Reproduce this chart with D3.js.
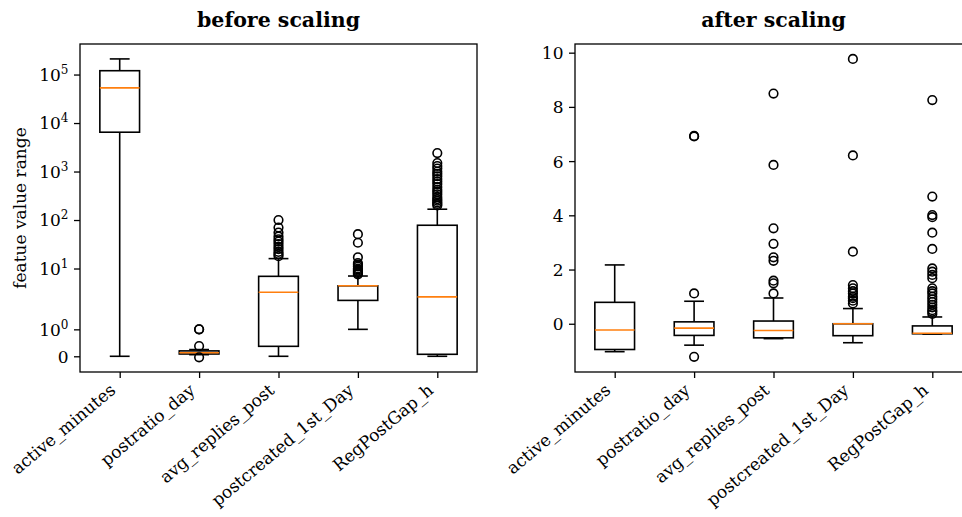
<!DOCTYPE html>
<html>
<head>
<meta charset="utf-8">
<script src="https://cdn.jsdelivr.net/npm/d3@7"></script>
<style>
  body { margin: 0; background: #fff; }
  svg { display: block; font-family: "DejaVu Serif", serif; }
  .domain { display: none; }
</style>
</head>
<body>
<div id="chart"></div>
<script>
const categories = ['active_minutes', 'postratio_day', 'avg_replies_post', 'postcreated_1st_Day', 'RegPostGap_h'];

// [whisker low, q1, median, q3, whisker high]
const beforeStats = [
  [0, 6470, 53000, 120000, 210000],
  [0.06, 0.085, 0.13, 0.2, 0.25],
  [0, 0.37, 3.24, 6.9, 16],
  [1, 2.2, 4.4, 4.4, 7],
  [0, 0.074, 2.6, 78, 167],
];
const beforeOutliers = [
  [],
  [1, 1, 0.38, -0.04],
  [100, 70, 55, 46, 40, 36, 32, 28, 25, 22, 20, 18],
  [51, 34, 17, 13, 12, 11, 10, 9.5, 9, 8.5, 8, 7.6],
  [2400, 1500, 1300, 1150, 1000, 900, 800, 700, 620, 550, 480, 420, 380, 340, 300, 270, 250, 230, 215, 200],
];
const afterStats = [
  [-1.03, -0.95, -0.23, 0.79, 2.17],
  [-0.79, -0.43, -0.16, 0.07, 0.83],
  [-0.55, -0.52, -0.25, 0.1, 0.95],
  [-0.7, -0.44, 0.0, 0.0, 0.56],
  [-0.38, -0.37, -0.35, -0.08, 0.25],
];
const afterOutliers = [
  [],
  [6.93, 6.91, 1.12, -1.22],
  [8.49, 5.86, 3.52, 2.95, 2.45, 2.32, 1.59, 1.49, 1.12],
  [9.77, 6.21, 2.66, 1.43, 1.31, 1.2, 1.12, 1.0, 0.94, 0.85, 0.75],
  [8.25, 4.69, 4.01, 3.93, 3.36, 2.76, 2.04, 1.92, 1.8, 1.68, 1.31, 1.2, 1.12, 1.0, 0.9, 0.8, 0.7, 0.6, 0.5, 0.44, 0.36],
];
const beforeTicks = [0, 1, 10, 100, 1000, 10000, 100000];
const afterTicks = [0, 2, 4, 6, 8, 10];

const width = 962;
const height = 517;

// matplotlib-like symlog (linthresh 2, linscale 1)
const linthresh = 2;
const linscale = 1 / (1 - 1 / 10);
function symlog(v) {
  const a = Math.abs(v);
  const t = a <= linthresh ? (a / linthresh) * linscale : linscale + Math.log10(a / linthresh);
  return v < 0 ? -t : t;
}

const svg = d3.select('#chart').append('svg')
  .attr('width', width)
  .attr('height', height);

svg.append('rect').attr('width', width).attr('height', height).attr('fill', '#fff');

function drawPanel(opts) {
  const { left, right, top, bottom, stats, outliers, title, transform, domain, ticks, fmt } = opts;

  const x = d3.scaleLinear().domain([0.5, 5.5]).range([left, right]);
  const lin = d3.scaleLinear().domain(domain).range([bottom, top]);
  const y = (v) => lin(transform(v));

  const g = svg.append('g');

  // boxes
  const boxW = 0.25;
  const capW = 0.125;
  stats.forEach((s, i) => {
    const cx = x(i + 1);
    const [lo, q1, med, q3, hi] = s;
    const bx = g.append('g').attr('fill', 'none').attr('stroke', '#000').attr('stroke-width', 1.6);
    bx.append('line').attr('x1', cx).attr('x2', cx).attr('y1', y(q1)).attr('y2', y(lo));
    bx.append('line').attr('x1', cx).attr('x2', cx).attr('y1', y(q3)).attr('y2', y(hi));
    bx.append('line').attr('x1', x(i + 1 - capW)).attr('x2', x(i + 1 + capW)).attr('y1', y(lo)).attr('y2', y(lo));
    bx.append('line').attr('x1', x(i + 1 - capW)).attr('x2', x(i + 1 + capW)).attr('y1', y(hi)).attr('y2', y(hi));
    bx.append('rect')
      .attr('x', x(i + 1 - boxW))
      .attr('width', x(i + 1 + boxW) - x(i + 1 - boxW))
      .attr('y', y(q3))
      .attr('height', Math.max(0.5, y(q1) - y(q3)));
    g.append('line')
      .attr('x1', x(i + 1 - boxW)).attr('x2', x(i + 1 + boxW))
      .attr('y1', y(med)).attr('y2', y(med))
      .attr('stroke', '#ff7f0e').attr('stroke-width', 1.6);
    g.selectAll(null).data(outliers[i]).enter().append('circle')
      .attr('cx', cx)
      .attr('cy', (d) => y(d))
      .attr('r', 4.3)
      .attr('fill', 'none')
      .attr('stroke', '#000')
      .attr('stroke-width', 1.6);
  });

  // frame
  svg.append('rect')
    .attr('x', left).attr('y', top)
    .attr('width', right - left).attr('height', bottom - top)
    .attr('fill', 'none')
    .attr('stroke', '#000')
    .attr('stroke-width', 1.3);

  // x axis
  const xAxis = svg.append('g')
    .attr('transform', `translate(0,${bottom})`)
    .call(d3.axisBottom(x).tickValues([1, 2, 3, 4, 5]).tickSize(6).tickFormat(''));
  xAxis.selectAll('.tick line').attr('stroke', '#000').attr('stroke-width', 1.3);

  categories.forEach((c, i) => {
    svg.append('text')
      .attr('transform', `translate(${x(i + 1) - 3},${bottom + 20}) rotate(-40)`)
      .attr('text-anchor', 'end')
      .attr('font-size', 17)
      .attr('fill', '#000')
      .text(c);
  });

  // y axis
  const yAxis = svg.append('g')
    .attr('transform', `translate(${left},0)`)
    .call(d3.axisLeft(lin).tickValues(ticks.map(transform)).tickSize(6).tickFormat(''));
  yAxis.selectAll('.tick line').attr('stroke', '#000').attr('stroke-width', 1.3);
  yAxis.selectAll('.tick').each(function (d, i) {
    const t = d3.select(this).append('text')
      .attr('x', -11.5)
      .attr('dy', '0.35em')
      .attr('text-anchor', 'end')
      .attr('font-size', 17)
      .attr('fill', '#000')
      .attr('font-family', '"DejaVu Serif", serif');
    fmt(t, ticks[i]);
  });

  svg.append('text')
    .attr('x', (left + right) / 2)
    .attr('y', top - 17)
    .attr('text-anchor', 'middle')
    .attr('font-size', 20.5)
    .attr('font-weight', 'bold')
    .text(title);
}

drawPanel({
  left: 80, right: 477, top: 44, bottom: 372,
  stats: beforeStats, outliers: beforeOutliers,
  title: 'before scaling',
  transform: symlog,
  domain: [-0.324, 6.44],
  ticks: beforeTicks,
  fmt: (t, v) => {
    if (v === 0) { t.text('0'); return; }
    t.append('tspan').text('10');
    t.append('tspan').attr('font-size', 12).attr('dy', '-0.6em').text(Math.round(Math.log10(v)));
  },
});

drawPanel({
  left: 575, right: 972, top: 44, bottom: 372,
  stats: afterStats, outliers: afterOutliers,
  title: 'after scaling',
  transform: (v) => v,
  domain: [-1.78, 10.32],
  ticks: afterTicks,
  fmt: (t, v) => t.text(v),
});

svg.append('text')
  .attr('transform', 'translate(26,208) rotate(-90)')
  .attr('text-anchor', 'middle')
  .attr('font-size', 17)
  .text('featue value range');
</script>
</body>
</html>
